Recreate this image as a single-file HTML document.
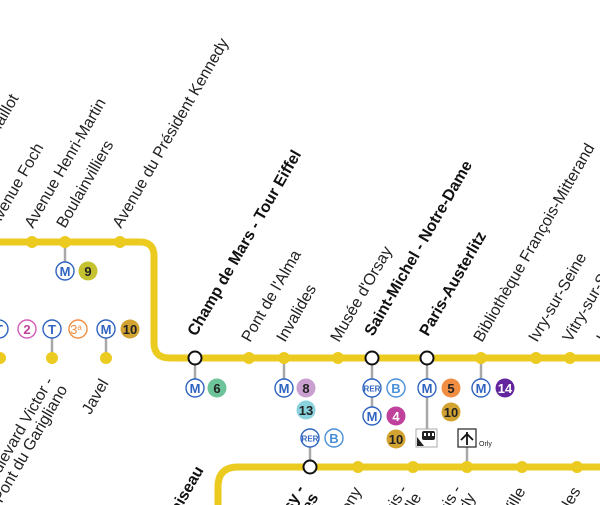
<!DOCTYPE html>
<html><head><meta charset="utf-8"><style>
html,body{margin:0;padding:0;background:#fff;width:600px;height:505px;overflow:hidden;}
svg{display:block;font-family:"Liberation Sans",sans-serif;}
.l{font-size:16px;fill:#222;}
.b{font-size:16px;font-weight:bold;fill:#111;}
.ic{fill:#fff;stroke:#2f64c0;stroke-width:1.4;}
.it{font-size:13px;fill:#2f64c0;text-anchor:middle;font-weight:bold;}
.nt{font-size:13px;font-weight:bold;text-anchor:middle;fill:#222;}
.cn{stroke:#a8a8a8;stroke-width:2.5;}
</style></head><body>
<svg width="600" height="505" viewBox="0 0 600 505">
<g fill="none" stroke="#eccb21" stroke-width="7">
<path d="M-10 242 H140 Q154 242 154 256 V343 Q154 358 170 358 H610"/>
<path d="M218 510 V487 Q218 467 238 467 H610"/>
</g>
<g class="cn">
<line x1="65" y1="242" x2="65" y2="263"/>
<line x1="52" y1="337" x2="52" y2="358"/>
<line x1="106" y1="337" x2="106" y2="358"/>
<line x1="195" y1="358" x2="195" y2="380"/>
<line x1="284" y1="358" x2="284" y2="380"/>
<line x1="372" y1="358" x2="372" y2="410"/>
<line x1="427" y1="358" x2="427" y2="432"/>
<line x1="481" y1="358" x2="481" y2="380"/>
<line x1="467" y1="446" x2="467" y2="467"/>
<line x1="310" y1="446" x2="310" y2="467"/>
</g>
<g fill="#eccb21">
<circle cx="32" cy="242" r="6"/><circle cx="65" cy="242" r="6"/><circle cx="120" cy="242" r="6"/>
<circle cx="0" cy="358" r="6"/><circle cx="52" cy="358" r="6"/><circle cx="106" cy="358" r="6"/>
<circle cx="249" cy="358" r="6"/><circle cx="284" cy="358" r="6"/><circle cx="338" cy="358" r="6"/>
<circle cx="481" cy="358" r="6"/><circle cx="536" cy="358" r="6"/><circle cx="570" cy="358" r="6"/>
<circle cx="358" cy="467" r="6"/><circle cx="413" cy="467" r="6"/><circle cx="467" cy="467" r="6"/><circle cx="522" cy="467" r="6"/><circle cx="577" cy="467" r="6"/>
</g>
<g fill="#fff" stroke="#111" stroke-width="2">
<circle cx="195" cy="358" r="6.5"/><circle cx="372" cy="358" r="6.5"/><circle cx="427" cy="358" r="6.5"/><circle cx="310" cy="467" r="6.5"/>
</g>
<g>
<circle class="ic" cx="65" cy="271" r="9"/><text class="it" x="65" y="276">M</text>
<circle cx="88" cy="271" r="9.5" fill="#c5c232"/><text class="nt" x="88" y="276">9</text>

<circle class="ic" cx="-1" cy="329" r="9"/><text class="it" x="-1" y="334">T</text>
<circle cx="27" cy="329" r="9" fill="#fff" stroke="#d25bb5" stroke-width="1.4"/><text class="nt" x="27" y="334" style="fill:#c0419c">2</text>
<circle class="ic" cx="52" cy="329" r="9"/><text class="it" x="52" y="334">T</text>
<circle cx="78" cy="329" r="9" fill="#fff" stroke="#f28e42" stroke-width="1.4"/><text x="76" y="334" style="font-size:13px;fill:#f28e42;text-anchor:middle">3<tspan font-size="8" dy="-4">a</tspan></text>
<circle class="ic" cx="106" cy="329" r="9"/><text class="it" x="106" y="334">M</text>
<circle cx="130" cy="329" r="9.5" fill="#d3a331"/><text class="nt" x="130" y="334">10</text>

<circle class="ic" cx="195" cy="388" r="9"/><text class="it" x="195" y="393">M</text>
<circle cx="217" cy="388" r="9.5" fill="#6ec49a"/><text class="nt" x="217" y="393">6</text>

<circle class="ic" cx="284" cy="388" r="9"/><text class="it" x="284" y="393">M</text>
<circle cx="306" cy="388" r="9.5" fill="#c9a0d0"/><text class="nt" x="306" y="393">8</text>
<circle cx="306" cy="410" r="9.5" fill="#8ad3de"/><text class="nt" x="306" y="415">13</text>

<circle class="ic" cx="372" cy="388" r="9"/><text class="it" x="372" y="391.5" style="font-size:8px">RER</text>
<circle cx="396" cy="388" r="9" fill="#fff" stroke="#4a90d9" stroke-width="1.4"/><text class="it" x="396" y="393" style="fill:#4a90d9">B</text>
<circle class="ic" cx="372" cy="416" r="9"/><text class="it" x="372" y="421">M</text>
<circle cx="396" cy="416" r="9.5" fill="#c0419c"/><text class="nt" x="396" y="421" style="fill:#fff">4</text>
<circle cx="396" cy="439" r="9.5" fill="#d3a331"/><text class="nt" x="396" y="444">10</text>

<circle class="ic" cx="427" cy="388" r="9"/><text class="it" x="427" y="393">M</text>
<circle cx="451" cy="388" r="9.5" fill="#f28e42"/><text class="nt" x="451" y="393">5</text>
<circle cx="451" cy="412" r="9.5" fill="#d3a331"/><text class="nt" x="451" y="417">10</text>
<rect x="416" y="429" width="21" height="18" fill="#fff" stroke="#aaa" stroke-width="1"/>
<rect x="422" y="431" width="13" height="9" rx="2" fill="#222"/>
<rect x="424" y="433" width="2" height="3" fill="#fff"/><rect x="428" y="433" width="2" height="3" fill="#fff"/><rect x="432" y="433" width="2" height="3" fill="#fff"/>
<path d="M417 446 L417 437 L424 446 Z" fill="#222"/>

<circle class="ic" cx="481" cy="388" r="9"/><text class="it" x="481" y="393">M</text>
<circle cx="505" cy="388" r="9.5" fill="#62259d"/><text class="nt" x="505" y="393" style="fill:#fff">14</text>

<rect x="458" y="429" width="18" height="18" fill="#fff" stroke="#222" stroke-width="1.2"/>
<path d="M467 432 V445 M461 440 L467 434 L473 440" stroke="#111" stroke-width="1.8" fill="none"/>
<text x="479" y="446" style="font-size:7px;fill:#222">Orly</text>

<circle class="ic" cx="310" cy="438" r="9"/><text class="it" x="310" y="441.5" style="font-size:8px">RER</text>
<circle cx="334" cy="438" r="9" fill="#fff" stroke="#4a90d9" stroke-width="1.4"/><text class="it" x="334" y="443" style="fill:#4a90d9">B</text>
</g>
<g transform="translate(19,98) rotate(-60)"><text class="l" text-anchor="end">Neuilly - Porte Maillot</text></g>
<g transform="translate(44,147) rotate(-60)"><text class="l" text-anchor="end">Avenue Foch</text></g>
<g transform="translate(33,229) rotate(-60)"><text class="l">Avenue Henri-Martin</text></g>
<g transform="translate(65,229) rotate(-60)"><text class="l">Boulainvilliers</text></g>
<g transform="translate(121,229) rotate(-60)"><text class="l">Avenue du Président Kennedy</text></g>
<g transform="translate(196,337) rotate(-60)"><text class="b">Champ de Mars - Tour Eiffel</text></g>
<g transform="translate(250,343) rotate(-60)"><text class="l">Pont de l'Alma</text></g>
<g transform="translate(285,343) rotate(-60)"><text class="l">Invalides</text></g>
<g transform="translate(339,343) rotate(-60)"><text class="l">Musée d'Orsay</text></g>
<g transform="translate(373,337) rotate(-60)"><text class="b">Saint-Michel - Notre-Dame</text></g>
<g transform="translate(428,337) rotate(-60)"><text class="b">Paris-Austerlitz</text></g>
<g transform="translate(482,343) rotate(-60)"><text class="l">Bibliothèque François-Mitterand</text></g>
<g transform="translate(537,343) rotate(-60)"><text class="l">Ivry-sur-Seine</text></g>
<g transform="translate(571,343) rotate(-60)"><text class="l">Vitry-sur-Seine</text></g>
<g transform="translate(605,343) rotate(-60)"><text class="l">Les Ardoines</text></g>
<g transform="translate(54,381) rotate(-60)"><text class="l" text-anchor="end">Boulevard Victor -<tspan x="0" dy="16">Pont du Garigliano</tspan></text></g>
<g transform="translate(109,383) rotate(-60)"><text class="l" text-anchor="end">Javel</text></g>
<g transform="translate(204,470) rotate(-60)"><text class="b" text-anchor="end">Massy-Palaiseau</text></g>
<g transform="translate(305,489) rotate(-60)"><text class="b" text-anchor="end">Massy -<tspan x="0" dy="16">Verrières</tspan></text></g>
<g transform="translate(362,491) rotate(-60)"><text class="l" text-anchor="end">Antony</text></g>
<g transform="translate(408,489) rotate(-60)"><text class="l" text-anchor="end">Rungis -<tspan x="0" dy="16">La Fraternelle</tspan></text></g>
<g transform="translate(462,489) rotate(-60)"><text class="l" text-anchor="end">Pont de Rungis -<tspan x="0" dy="16">Aéroport d'Orly</tspan></text></g>
<g transform="translate(526,491) rotate(-60)"><text class="l" text-anchor="end">Orly-Ville</text></g>
<g transform="translate(581,491) rotate(-60)"><text class="l" text-anchor="end">Les Saules</text></g>
</svg>
</body></html>
